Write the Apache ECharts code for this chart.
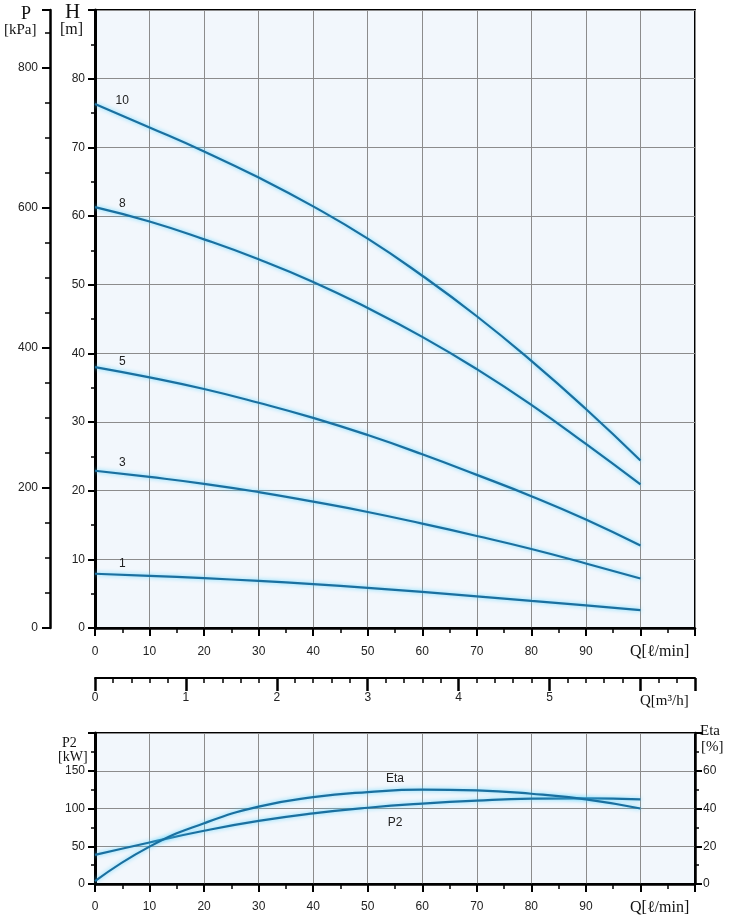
<!DOCTYPE html>
<html>
<head>
<meta charset="utf-8">
<script src="https://cdn.jsdelivr.net/npm/echarts@6/dist/echarts.min.js"></script>
<style>
  html, body { margin: 0; padding: 0; background: #fff; }
  #chart { width: 731px; height: 923px; }
</style>
</head>
<body>
<div id="chart"></div>
<script>
// flow points, l/min
var flow = [0, 10, 20, 30, 40, 50, 60, 70, 80, 90, 100]

// head curves, m (per stage count)
var h10 = [76.3, 72.9, 69.4, 65.6, 61.4, 56.7, 51.3, 45.4, 38.9, 31.9, 24.4]
var h8 = [61.3, 59.2, 56.6, 53.7, 50.4, 46.6, 42.4, 37.7, 32.5, 26.8, 20.9]
var h5 = [38.0, 36.5, 34.8, 32.8, 30.6, 28.1, 25.3, 22.3, 19.2, 15.8, 12.0]
var h3 = [22.9, 22.0, 21.0, 19.8, 18.4, 16.9, 15.2, 13.4, 11.5, 9.4, 7.2]
var h1 = [7.9, 7.6, 7.25, 6.85, 6.4, 5.85, 5.25, 4.6, 3.95, 3.3, 2.6]
var stages = ['10', '8', '5', '3', '1']
var heads = [h10, h8, h5, h3, h1]

// lower chart
var p2 = [38.5, 55, 70.5, 83.5, 93.5, 101, 106.5, 110.5, 113, 113.5, 112]
var eta = [1.5, 19.8, 32.2, 41, 46, 48.7, 50, 49.6, 47.8, 44.8, 40]

var H_MAX = 90
var P_MAX = 882.9 // 90 m of water in kPa
var Q_MAX = 110
var QM3_MAX = 6.6

var chart = echarts.init(document.getElementById('chart'))

var tickFont = { fontFamily: 'Liberation Sans, Arial, sans-serif', fontSize: 12, color: '#222' }
var serif = 'Liberation Serif, Times New Roman, serif'
var black = { color: '#000', width: 2.5 }
var gridLine = { show: true, lineStyle: { color: '#8c8c8c', width: 1 } }

function pairs(ys) {
  return flow.map(function(q, i) { return [q, ys[i]] })
}
function midVal(ys, q) {
  var i = Math.floor(q / 10)
  var t = (q - flow[i]) / 10
  return ys[i] + (ys[i + 1] - ys[i]) * t
}
function curveStyle() {
  return {
    color: '#1a70a0',
    width: 2.2,
    shadowColor: 'rgba(80,210,255,0.85)',
    shadowBlur: 4
  }
}
function tag(text, q, ys, dy) {
  return {
    symbol: 'circle',
    symbolSize: 1,
    itemStyle: { color: 'rgba(0,0,0,0)' },
    label: { show: true, position: 'inside', offset: [0, dy], color: '#222', fontFamily: tickFont.fontFamily, fontSize: 12 },
    data: [{ coord: [q, midVal(ys, q)], value: text }]
  }
}
function hideAbove(lim) {
  return function(v) { return v > lim ? '' : v }
}

var series = heads.map(function(h, i) {
  return {
    type: 'line',
    xAxisIndex: 0,
    yAxisIndex: 0,
    smooth: 0.5,
    showSymbol: false,
    data: pairs(h),
    lineStyle: curveStyle(),
    markPoint: tag(stages[i], 5, h, i === 0 ? -15 : -11)
  }
})
series.push({
  type: 'line', xAxisIndex: 2, yAxisIndex: 4, smooth: 0.5, showSymbol: false,
  data: pairs(p2), lineStyle: curveStyle(), markPoint: tag('P2', 55, p2, 17)
})
series.push({
  type: 'line', xAxisIndex: 2, yAxisIndex: 5, smooth: 0.5, showSymbol: false,
  data: pairs(eta), lineStyle: curveStyle(), markPoint: tag('Eta', 55, eta, -12)
})

chart.setOption({
  animation: false,
  grid: [
    { left: 95, right: 36, top: 10, height: 618, show: true, backgroundColor: '#f2f7fc', borderColor: '#000', borderWidth: 2 },
    { left: 95, right: 36, top: 677, height: 1 },
    { left: 95, right: 36, top: 733, height: 151, show: true, backgroundColor: '#f2f7fc', borderColor: '#000', borderWidth: 2 }
  ],
  xAxis: [
    {
      gridIndex: 0, type: 'value', position: 'bottom', min: 0, max: Q_MAX, interval: 10,
      axisLine: { lineStyle: black },
      axisTick: { length: 8, lineStyle: { color: '#000', width: 2 } },
      minorTick: { show: true, splitNumber: 2, length: 5, lineStyle: { color: '#000', width: 1.5 } },
      axisLabel: Object.assign({ margin: 18, formatter: hideAbove(90) }, tickFont),
      splitLine: gridLine
    },
    {
      gridIndex: 1, type: 'value', position: 'bottom', min: 0, max: QM3_MAX, interval: 1,
      axisLine: { show: true, lineStyle: { color: '#000', width: 2 } },
      axisTick: { show: true, length: 13, lineStyle: { color: '#000', width: 2.5 } },
      minorTick: { show: true, splitNumber: 5, length: 5, lineStyle: { color: '#000', width: 1.5 } },
      axisLabel: Object.assign({ margin: 14, formatter: hideAbove(5) }, tickFont),
      splitLine: { show: false }
    },
    {
      gridIndex: 2, type: 'value', position: 'bottom', min: 0, max: Q_MAX, interval: 10,
      axisLine: { lineStyle: black },
      axisTick: { length: 8, lineStyle: { color: '#000', width: 2 } },
      minorTick: { show: true, splitNumber: 2, length: 5, lineStyle: { color: '#000', width: 1.5 } },
      axisLabel: Object.assign({ margin: 17, formatter: hideAbove(90) }, tickFont),
      splitLine: gridLine
    }
  ],
  yAxis: [
    {
      gridIndex: 0, type: 'value', min: 0, max: H_MAX, interval: 10,
      axisLine: { show: true, lineStyle: { color: '#000', width: 3 } },
      axisTick: { show: true, length: 7, lineStyle: { color: '#000', width: 2 } },
      minorTick: { show: true, splitNumber: 2, length: 4, lineStyle: { color: '#000', width: 1.5 } },
      axisLabel: Object.assign({ margin: 10, formatter: hideAbove(80) }, tickFont),
      splitLine: gridLine
    },
    {
      gridIndex: 0, type: 'value', min: 0, max: P_MAX, interval: 50, position: 'left', offset: 45,
      axisLine: { show: true, lineStyle: { color: '#000', width: 2.5 } },
      axisTick: { show: true, length: 5, lineStyle: { color: '#000', width: 1.5 } },
      axisLabel: { show: false },
      splitLine: { show: false }
    },
    {
      gridIndex: 0, type: 'value', min: 0, max: P_MAX, interval: 200, position: 'left', offset: 45,
      axisLine: { show: false },
      axisTick: { show: true, length: 8, lineStyle: { color: '#000', width: 2 } },
      axisLabel: Object.assign({ margin: 12, formatter: hideAbove(800) }, tickFont),
      splitLine: { show: false }
    },
    { gridIndex: 1, type: 'value', show: false, min: 0, max: 1 },
    {
      gridIndex: 2, type: 'value', min: 0, max: 200, interval: 50, position: 'left',
      axisLine: { show: true, lineStyle: { color: '#000', width: 3 } },
      axisTick: { show: true, length: 7, lineStyle: { color: '#000', width: 2 } },
      minorTick: { show: true, splitNumber: 2, length: 4, lineStyle: { color: '#000', width: 1.5 } },
      axisLabel: Object.assign({ margin: 10, formatter: hideAbove(150) }, tickFont),
      splitLine: gridLine
    },
    {
      gridIndex: 2, type: 'value', min: 0, max: 80, interval: 20, position: 'right',
      axisLine: { show: true, lineStyle: { color: '#000', width: 2.5 } },
      axisTick: { show: true, length: 7, lineStyle: { color: '#000', width: 2 } },
      minorTick: { show: true, splitNumber: 2, length: 4, lineStyle: { color: '#000', width: 1.5 } },
      axisLabel: Object.assign({ margin: 8, formatter: hideAbove(60) }, tickFont),
      splitLine: { show: false }
    }
  ],
  graphic: [
    { type: 'text', left: 21, top: 5, style: { text: 'P', font: '18px ' + serif, fill: '#111' } },
    { type: 'text', left: 4, top: 23, style: { text: '[kPa]', font: '15px ' + serif, fill: '#111' } },
    { type: 'text', left: 65, top: 2, style: { text: 'H', font: '21px ' + serif, fill: '#111' } },
    { type: 'text', left: 60, top: 22, style: { text: '[m]', font: '16px ' + serif, fill: '#111' } },
    { type: 'text', left: 630, top: 644, style: { text: 'Q[ℓ/min]', font: '16px ' + serif, fill: '#111' } },
    { type: 'text', left: 640, top: 694, style: { text: 'Q[m³/h]', font: '15px ' + serif, fill: '#111' } },
    { type: 'text', left: 62, top: 736, style: { text: 'P2', font: '14px ' + serif, fill: '#111' } },
    { type: 'text', left: 58, top: 750, style: { text: '[kW]', font: '14px ' + serif, fill: '#111' } },
    { type: 'text', left: 700, top: 724, style: { text: 'Eta', font: '15px ' + serif, fill: '#111' } },
    { type: 'text', left: 701, top: 740, style: { text: '[%]', font: '15px ' + serif, fill: '#111' } },
    { type: 'text', left: 630, top: 900, style: { text: 'Q[ℓ/min]', font: '16px ' + serif, fill: '#111' } }
  ],
  series: series
})

window.addEventListener('resize', function() {
  chart.resize()
})
</script>
</body>
</html>
